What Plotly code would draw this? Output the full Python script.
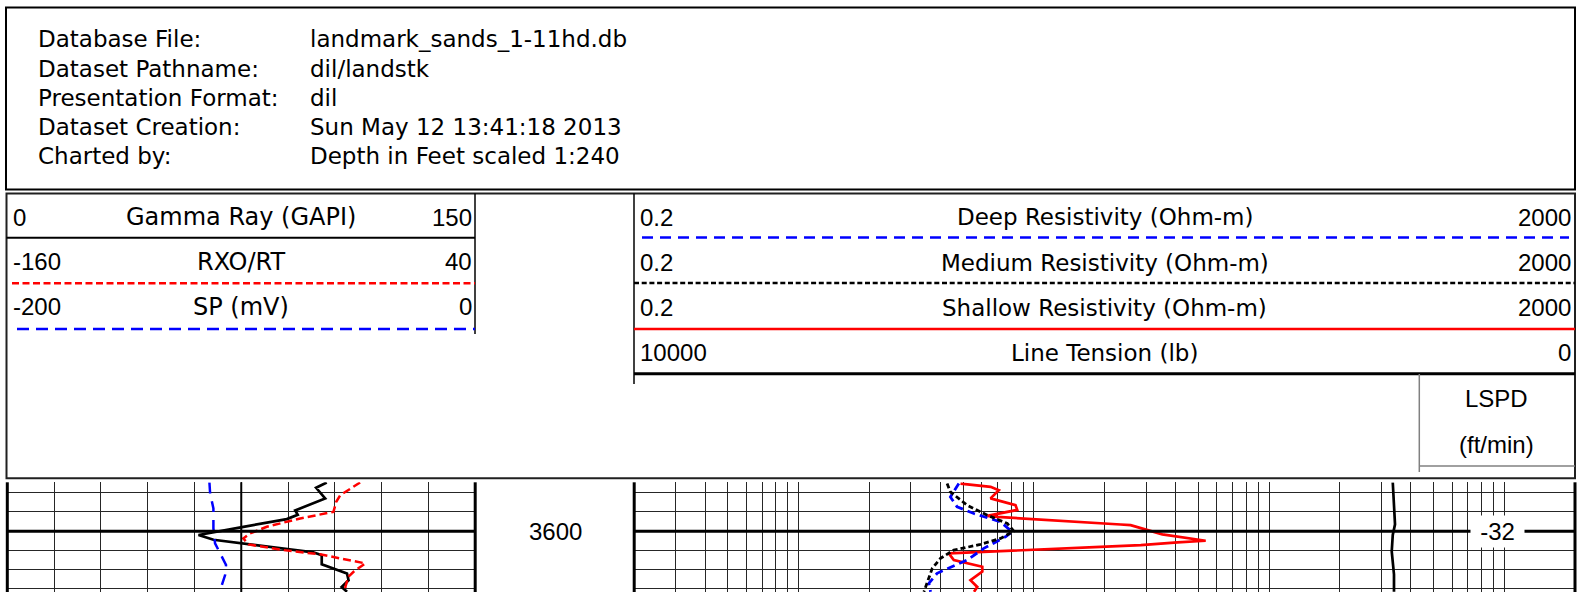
import math
import plotly.graph_objects as go

W, H = 1592, 592

# ---------------- data ----------------
header_labels = ["Database File:", "Dataset Pathname:", "Presentation Format:",
                 "Dataset Creation:", "Charted by:"]
header_values = ["landmark_sands_1-11hd.db", "dil/landstk", "dil",
                 "Sun May 12 13:41:18 2013", "Depth in Feet scaled 1:240"]

left_names = ["Gamma Ray (GAPI)", "RXO/RT", "SP (mV)"]
left_min = ["0", "-160", "-200"]
left_max = ["150", "40", "0"]

right_names = ["Deep Resistivity (Ohm-m)", "Medium Resistivity (Ohm-m)",
               "Shallow Resistivity (Ohm-m)", "Line Tension (lb)"]
right_min = ["0.2", "0.2", "0.2", "10000"]
right_max = ["2000", "2000", "2000", "0"]

lspd_title = ["LSPD", "(ft/min)"]
lspd_depth = 3600
lspd_value = -32
depth_label = 3600
depth_top, depth_bottom = 3594.93, 3606.32

gr_range = [0, 150]
rxo_range = [-160, 40]
sp_range = [-200, 0]
res_range = [0.2, 2000]
ten_range = [10000, 0]

gr_depth = [3594.95, 3595.5, 3596.6, 3597.6, 3597.85, 3598.3, 3598.75, 3599.55,
            3600.4, 3600.9, 3601.3, 3602.2, 3602.5, 3603.45, 3604.4, 3605.1,
            3605.8, 3606.3]
gr_value = [102.4, 99.0, 101.9, 94.4, 92.3, 93.1, 89.6, 75.7,
            61.3, 66.1, 76.2, 98.1, 100.8, 100.8, 108.9, 109.4,
            107.2, 108.9]

rxo_depth = [3594.95, 3596.27, 3596.96, 3598.0, 3598.68, 3599.55, 3600.24,
             3600.76, 3601.38, 3601.97, 3602.41, 3603.35, 3604.22, 3604.74,
             3605.8, 3606.3]
rxo_value = [-9.2, -17.7, -19.4, -20.6, -34.8, -49.1, -56.2,
             -59.1, -56.9, -41.9, -26.3, -7.0, -12.0, -14.2,
             -15.5, -15.0]

sp_depth = [3594.95, 3596.09, 3597.65, 3599.72, 3601.27, 3602.31, 3603.52,
            3604.56, 3605.6, 3606.3]
sp_value = [-113.6, -113.3, -111.9, -111.9, -111.2, -109.0, -106.5,
            -106.9, -108.3, -108.3]

deep_depth = [3595.06, 3596.45, 3597.48, 3598.17, 3599.04, 3600.07, 3600.59,
              3601.79, 3603.0, 3604.38, 3605.42, 3606.3]
deep_value = [4.80, 4.42, 4.72, 5.56, 7.22, 8.09, 7.58,
              6.13, 5.21, 3.88, 3.58, 3.64]

med_depth = [3595.06, 3595.93, 3597.31, 3598.34, 3599.2, 3600.0, 3600.76,
             3601.38, 3601.97, 3602.83, 3603.87, 3605.42, 3606.3]
med_value = [4.28, 4.42, 5.21, 6.34, 7.71, 8.22, 7.22,
             5.93, 4.57, 4.01, 3.70, 3.52, 3.41]

sha_depth = [3595.06, 3595.4, 3595.75, 3596.6, 3597.3, 3597.8, 3598.41, 3598.52,
             3599.31, 3599.38, 3600.34, 3601.0, 3601.17, 3601.45, 3601.63,
             3602.31, 3603.0, 3603.7, 3604.2, 3605.1, 3605.8, 3606.3]
sha_value = [4.88, 6.55, 7.10, 6.55, 8.36, 8.50, 6.34, 6.99,
             23.4, 25.8, 35.2, 53.8, 40.8, 28.5, 19.2,
             4.35, 4.57, 6.04, 6.04, 5.38, 5.75, 5.57]

ten_depth = [3594.95, 3596.5, 3599.3, 3600.4, 3602.1, 3604.5, 3606.3]
ten_value = [1937, 1930, 1913, 1937, 1948, 1924, 1924]

# ---------------- helpers ----------------
def px(x):
    return x / W


def py(y):
    return 1 - y / H


GRID = "#262626"
LBL = "DejaVu Sans"
NUM = "Liberation Sans"

shapes = []
annotations = []


def hline(y, x0, x1, color="black", width=2, dash="solid"):
    shapes.append(dict(type="line", xref="paper", yref="paper", x0=px(x0), x1=px(x1),
                       y0=py(y), y1=py(y), line=dict(color=color, width=width, dash=dash)))


def vline(x, y0, y1, color="black", width=2):
    shapes.append(dict(type="line", xref="paper", yref="paper", x0=px(x), x1=px(x),
                       y0=py(y0), y1=py(y1), line=dict(color=color, width=width)))


def text(s, x, y, anchor, size=24, family=NUM):
    annotations.append(dict(text=s, x=px(x), y=py(y), xref="paper", yref="paper",
                            xanchor=anchor, yanchor="middle", showarrow=False,
                            borderpad=0, font=dict(family=family, size=size, color="black")))


# ---------------- header (info) box ----------------
shapes.append(dict(type="rect", xref="paper", yref="paper", x0=px(6), x1=px(1575),
                   y0=py(7.5), y1=py(189.5), line=dict(color="black", width=2)))
info_y = [39.1, 68.9, 98.2, 127.2, 156.4]
for lab, val, yy in zip(header_labels, header_values, info_y):
    text(lab, 37, yy, "left", 23, LBL)
    text(val, 309, yy, "left", 23, LBL)

# ---------------- track header box ----------------
shapes.append(dict(type="rect", xref="paper", yref="paper", x0=px(6.5), x1=px(1575),
                   y0=py(193.5), y1=py(478.3), line=dict(color="#202020", width=2)))

# left track header
vline(475, 193.5, 334, width=1.5)
left_rows = [217.2, 261.7, 306.7]
for nm, mn, mx, yy in zip(left_names, left_min, left_max, left_rows):
    text(mn, 12, yy, "left")
    text(nm, 241, yy, "center", 24, LBL)
    text(mx, 472.5, yy, "right")
hline(237.7, 6.5, 475, "black", 2)
hline(283.3, 12, 475, "red", 2.5, "7px,3.5px")
hline(329, 17, 475, "blue", 2.5, "12px,7px")

# right track header
vline(634, 193.5, 384, width=1.5)
right_rows = [217.4, 262.5, 307.5, 352.5]
for nm, mn, mx, yy in zip(right_names, right_min, right_max, right_rows):
    text(mn, 638.5, yy, "left")
    text(nm, 1104.5, yy, "center", 23, LBL)
    text(mx, 1571.5, yy, "right")
hline(237.5, 642, 1569, "blue", 2.5, "11px,7px")
hline(283.0, 634, 1575, "black", 2.5, "5px,2.7px")
hline(329.0, 634, 1575, "red", 2.5)
hline(373.8, 634, 1575, "black", 3)

# LSPD header cell
vline(1419.3, 374, 472, color="#808080", width=1.5)
hline(466, 1419.3, 1575, "#808080", 1.5)
text(lspd_title[0], 1496, 398.4, "center")
text(lspd_title[1], 1496, 444, "center")

# ---------------- data tracks ----------------
y_top = 482.3
ydom = [0, py(y_top)]

# track borders
vline(7.3, y_top, 592, width=3)
vline(475.2, y_top, 592, width=3)
vline(634.2, y_top, 592, width=3)
vline(1575, y_top, 592, width=3)

# heavy middle line of left track
shapes.append(dict(type="line", xref="x", yref="paper", x0=sum(gr_range) / 2,
                   x1=sum(gr_range) / 2, y0=0, y1=ydom[1],
                   line=dict(color="black", width=2)))
# heavy depth line
for xa, xb in [(7.3, 475.2), (634.2, 1575)]:
    shapes.append(dict(type="line", xref="paper", yref="y", x0=px(xa), x1=px(xb),
                       y0=depth_label, y1=depth_label, line=dict(color="black", width=3)))

annotations.append(dict(text=str(depth_label), x=px(555), y=depth_label, xref="paper",
                        yref="y", xanchor="center", yanchor="middle", showarrow=False,
                        borderpad=0, font=dict(family=NUM, size=24, color="black")))
annotations.append(dict(text=str(lspd_value), x=px(1497), y=lspd_depth, xref="paper",
                        yref="y", xanchor="center", yanchor="middle", showarrow=False,
                        width=53, height=31, bgcolor="white", borderpad=0,
                        font=dict(family=NUM, size=24, color="black")))

fig = go.Figure()
fig.add_trace(go.Scatter(x=sp_value, y=sp_depth, xaxis="x3", yaxis="y", mode="lines",
                         line=dict(color="blue", width=2.5, dash="11px,8px")))
fig.add_trace(go.Scatter(x=rxo_value, y=rxo_depth, xaxis="x2", yaxis="y", mode="lines",
                         line=dict(color="red", width=2.5, dash="8px,4px")))
fig.add_trace(go.Scatter(x=gr_value, y=gr_depth, xaxis="x", yaxis="y", mode="lines",
                         line=dict(color="black", width=2.7)))
fig.add_trace(go.Scatter(x=sha_value, y=sha_depth, xaxis="x4", yaxis="y", mode="lines",
                         line=dict(color="red", width=2.7)))
fig.add_trace(go.Scatter(x=deep_value, y=deep_depth, xaxis="x4", yaxis="y", mode="lines",
                         line=dict(color="blue", width=2.8, dash="8px,5px")))
fig.add_trace(go.Scatter(x=med_value, y=med_depth, xaxis="x4", yaxis="y", mode="lines",
                         line=dict(color="black", width=2.8, dash="5px,3px")))
fig.add_trace(go.Scatter(x=ten_value, y=ten_depth, xaxis="x5", yaxis="y", mode="lines",
                         line=dict(color="black", width=2.7)))

lin_ticks = [gr_range[0] + i * (gr_range[1] - gr_range[0]) / 10 for i in range(1, 10)]
log_ticks = [m * 10 ** e for e in range(-1, 4) for m in range(1, 10)
             if res_range[0] < m * 10 ** e < res_range[1]]

hidden = dict(visible=False, showgrid=False, zeroline=False, fixedrange=True)
fig.update_layout(
    width=W, height=H, margin=dict(l=0, r=0, t=0, b=0),
    paper_bgcolor="white", plot_bgcolor="white", showlegend=False,
    xaxis=dict(domain=[px(7.3), px(475.2)], range=gr_range, anchor="y",
               tickmode="array", tickvals=lin_ticks, showgrid=True, gridcolor=GRID,
               gridwidth=1, showticklabels=False, ticks="", zeroline=False,
               showline=False, fixedrange=True),
    xaxis2=dict(overlaying="x", range=rxo_range, anchor="y", **hidden),
    xaxis3=dict(overlaying="x", range=sp_range, anchor="y", **hidden),
    xaxis4=dict(domain=[px(634.2), px(1575)], type="log",
                range=[math.log10(res_range[0]), math.log10(res_range[1])], anchor="y",
                tickmode="array", tickvals=log_ticks, showgrid=True, gridcolor=GRID,
                gridwidth=1, showticklabels=False, ticks="", zeroline=False,
                showline=False, fixedrange=True),
    xaxis5=dict(overlaying="x4", range=ten_range, anchor="y", **hidden),
    yaxis=dict(domain=ydom, range=[depth_bottom, depth_top], anchor="x",
               tickmode="linear", tick0=depth_label, dtick=2, showgrid=True,
               gridcolor=GRID, gridwidth=1, showticklabels=False, ticks="",
               zeroline=False, showline=False, fixedrange=True),
    shapes=shapes, annotations=annotations,
)

fig.write_html("out.html", config={"displayModeBar": False},
               post_script="document.body.style.margin='0';document.body.style.overflow='hidden';")
